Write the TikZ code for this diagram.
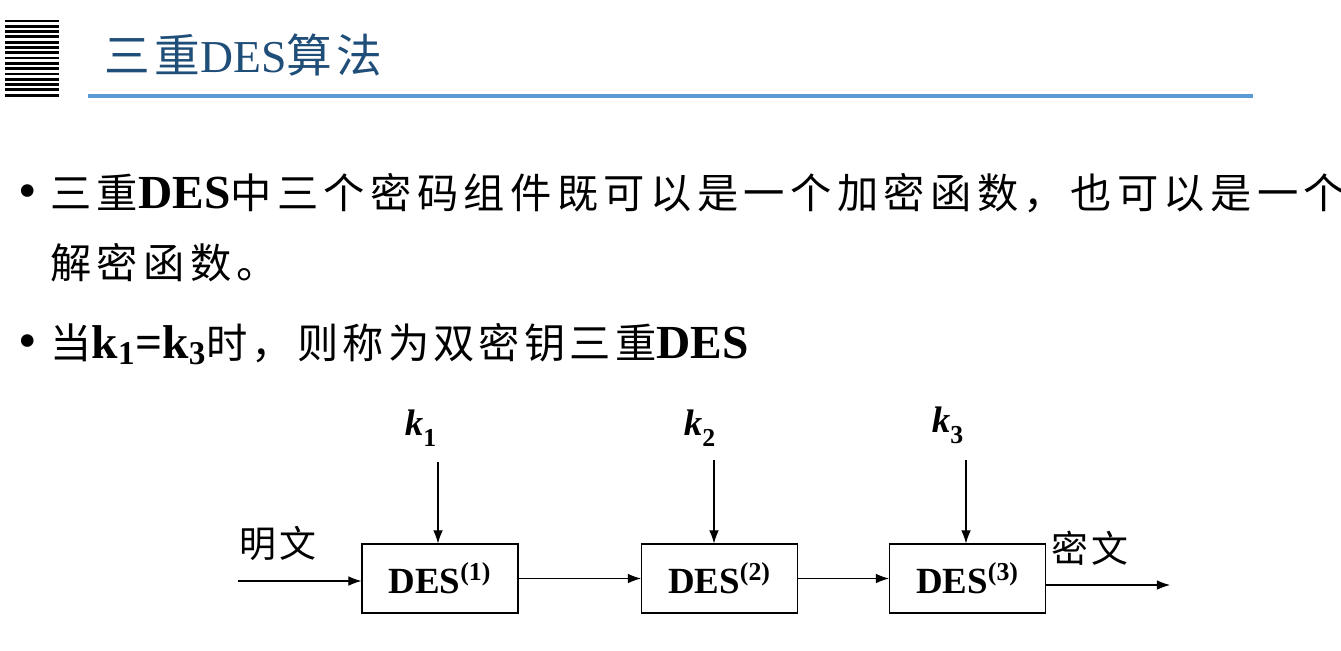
\documentclass[tikz,border=0pt]{standalone}
\usepackage{fontspec}
\setmainfont{Liberation Serif}
\newfontfamily\cjk{Noto Sans CJK SC}[LetterSpace=10]
\newfontfamily\cjkwide{Noto Sans CJK SC}[LetterSpace=13]
\usetikzlibrary{positioning,arrows.meta}
\definecolor{titleblue}{RGB}{31,78,121}
\definecolor{ruleblue}{RGB}{91,155,213}
\tikzset{
  arr/.style={-{Latex[length=7.5pt,width=5.5pt]}, line width=0.6pt},
  desbox/.style={draw, line width=0.6pt, minimum width=3.12cm, minimum height=1.38cm,
    font=\fontsize{21pt}{24pt}\selectfont\bfseries},
  body/.style={anchor=base west, inner sep=0pt, font=\fontsize{23.5pt}{28pt}\selectfont},
  small/.style={font=\fontsize{21pt}{24pt}\selectfont}
}
\newcommand\lat[1]{{\fontsize{27pt}{30pt}\selectfont\bfseries #1}}
\newcommand\key[1]{\textbf{\textit{k}}\raisebox{-3pt}{\textsubscript{\textbf{#1}}}}
\begin{document}
\begin{tikzpicture}[x=0.02cm,y=-0.02cm]
    \useasboundingbox (0,0) rectangle (1341,650);

    % heading
    \foreach \i in {0,...,14}
        \fill (5,19.5+5.3*\i) rectangle (59,22.3+5.3*\i);
    \node[anchor=base west, inner sep=0pt, text=titleblue,
          font=\fontsize{26pt}{30pt}\selectfont] (title) at (104,72)
        {{\cjk 三重}DES{\cjk 算法}};
    \draw[ruleblue, line width=2.4pt] (88,96) -- (1253,96);

    % bullets
    \node[body] (b1) at (18,208) {\fontsize{30pt}{30pt}\selectfont\textbullet};
    \node[body] (l1) at (50,208)
        {{\cjkwide 三重}\lat{DES}{\cjkwide 中三个密码组件既可以是一个加密函数，也可以是一个}};
    \node[body] (l2) at (50,278) {\cjkwide 解密函数。};
    \node[body] (b2) at (18,358) {\fontsize{30pt}{30pt}\selectfont\textbullet};
    \node[body] (l3) at (50,358)
        {{\cjk 当}\lat{k\textsubscript{1}=k\textsubscript{3}}{\cjk 时，则称为双密钥三重}\lat{DES}};

    % triple DES chain
    \node[desbox] (des1) at (440,578.5) {DES\textsuperscript{(1)}};
    \node[desbox] (des2) at (719.5,578.5) {DES\textsuperscript{(2)}};
    \node[desbox] (des3) at (967.5,578.5) {DES\textsuperscript{(3)}};

    \node[small] (k1) at (421,428) {\key{1}};
    \node[small] (k2) at (700,428) {\key{2}};
    \node[small] (k3) at (948,425) {\key{3}};

    \coordinate (k1a) at (438,462);
    \coordinate (k2a) at (714,460);
    \coordinate (k3a) at (966,460);
    \draw[arr] (k1a) -- (k1a|-des1.north);
    \draw[arr] (k2a) -- (k2a|-des2.north);
    \draw[arr] (k3a) -- (k3a|-des3.north);

    \coordinate (in) at (238,581);
    \coordinate (out) at (1170,585);
    \node[small] (plain) at (278,543) {\cjk 明文};
    \node[small] (cipher) at (1090,548) {\cjk 密文};

    \draw[arr] (in) -- (in-|des1.west);
    \draw[arr] (des1) -- (des2);
    \draw[arr] (des2) -- (des3);
    \draw[arr] (des3.east|-out) -- (out);
\end{tikzpicture}
\end{document}
